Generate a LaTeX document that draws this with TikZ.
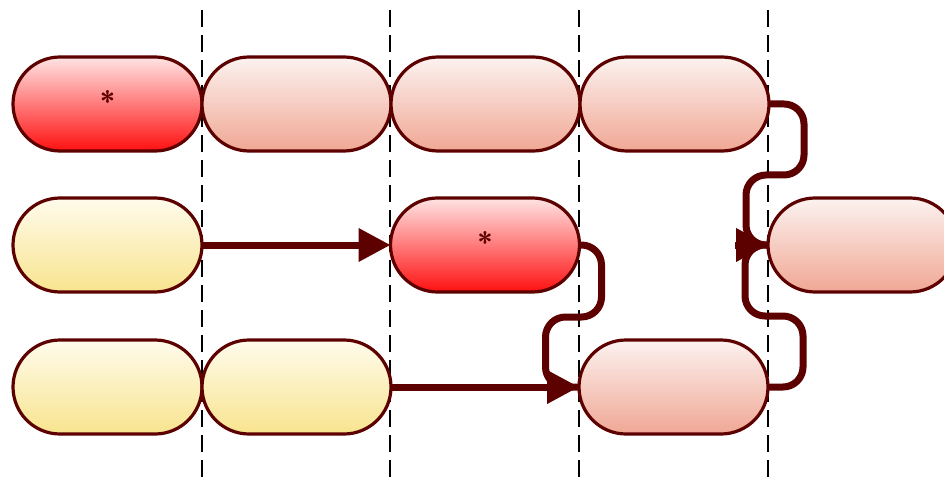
\documentclass[tikz,border=0pt]{standalone}
\usetikzlibrary{positioning,arrows.meta}
\definecolor{wine}{HTML}{5C0000}
\definecolor{hot}{HTML}{FF1010}
\definecolor{hotlight}{HTML}{FFE4E4}
\definecolor{sand}{HTML}{F8E48E}
\definecolor{sandlight}{HTML}{FFFBEC}
\definecolor{salmon}{HTML}{F0A794}
\definecolor{salmonlight}{HTML}{FCF2F0}

\begin{document}
\begin{tikzpicture}[node distance=0pt,
  b/.style={rectangle, rounded corners=47pt, draw=wine, line width=3.2pt, outer sep=0pt, minimum width=189pt, minimum height=94pt, inner sep=0pt, text=wine, font=\sffamily\bfseries\fontsize{28}{28}\selectfont},
  hl/.style={top color=hotlight, bottom color=hot},
  yl/.style={top color=sandlight, bottom color=sand},
  pk/.style={top color=salmonlight, bottom color=salmon},
  f/.style={draw=wine, line width=7pt},
  t/.style={f, -{Triangle[length=32pt,width=32pt]}},
  sep/.style={line width=2pt, dash pattern=on 17pt off 8pt}]
  \useasboundingbox (0,0) rectangle (944pt,-481pt);

  % time boundaries
  \foreach \x in {202,390,579,768}
    \draw[sep] (\x pt,-10pt) -- (\x pt,-481pt);

  % row 1
  \node[b, hl] (R1C1) at (107.5pt,-104pt) {\raisebox{6pt}{*}};
  \node[b, pk, right=of R1C1] (R1C2) {};
  \node[b, pk, right=of R1C2] (R1C3) {};
  \node[b, pk, right=of R1C3] (R1C4) {};
  % row 2
  \node[b, yl] (R2C1) at (107.5pt,-245pt) {};
  \node[b, hl] (R2C3) at (485pt,-245pt) {\raisebox{6pt}{*}};
  \node[b, pk] (R2C5) at (862.5pt,-245pt) {};
  % row 3
  \node[b, yl] (R3C1) at (107.5pt,-387pt) {};
  \node[b, yl, right=of R3C1] (R3C2) {};
  \node[b, pk] (R3C4) at (673.5pt,-387pt) {};

  \draw[t] (R2C1.east) -- (R2C3.west);
  \draw[f, rounded corners=20pt] (R2C3.east) -- ++(22pt,0) |- ++(-56pt,-72pt) |- (R3C4.west);
  \draw[t] (R3C2.east) -- (R3C4.west);
  \draw[f, rounded corners=20pt] (R1C4.east) -- ++(35pt,0) |- ++(-58pt,-71pt) |- (R2C5.west);
  \draw[f, rounded corners=20pt] (R3C4.east) -- ++(35pt,0) |- ++(-58pt,71pt) |- (R2C5.west);
  \draw[t] ([xshift=-33pt]R2C5.west) -- (R2C5.west);
\end{tikzpicture}
\end{document}
